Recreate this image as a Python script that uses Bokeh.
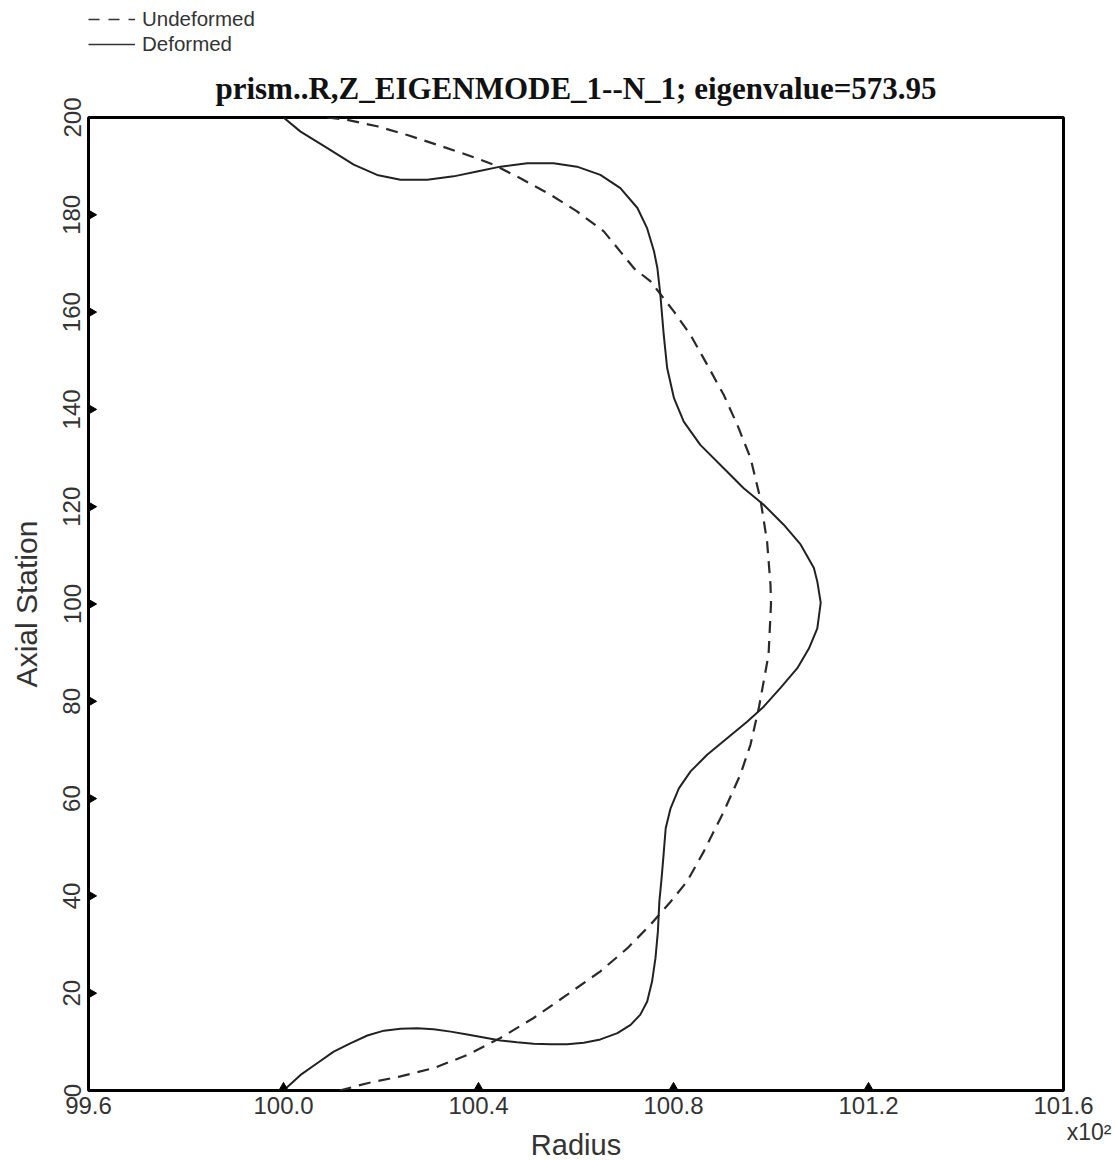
import numpy as np
from bokeh.plotting import figure
from bokeh.layouts import column
from bokeh.models import (Range1d, FixedTicker, PrintfTickFormatter, LinearAxis, Legend, LegendItem)
from bokeh.embed import file_html
from bokeh.resources import INLINE

# ---- data ----
undeformed_r = [100.115, 100.172, 100.240, 100.308, 100.377, 100.445, 100.513, 100.582, 100.650, 100.705,
                100.753, 100.794, 100.828, 100.862, 100.903, 100.937, 100.958, 100.975, 100.985, 100.995,
                101.0, 100.999, 100.992, 100.978, 100.958, 100.931, 100.903, 100.869, 100.835, 100.801,
                100.753, 100.719, 100.657, 100.602, 100.548, 100.486, 100.431, 100.377, 100.315, 100.254,
                100.192, 100.131, 100.090]
undeformed_z = [0, 1.5, 2.9, 4.6, 7.3, 10.8, 14.9, 19.7, 24.5, 29.2,
                34.1, 38.8, 43.0, 49.1, 57.3, 64.9, 71.1, 78.6, 84.1, 89.6,
                100, 103.9, 112.8, 121.7, 130.0, 136.8, 143.0, 149.2, 155.3, 160.1,
                166.3, 169.0, 176.6, 180.7, 184.1, 187.5, 190.3, 192.3, 194.4, 196.4,
                198.2, 199.5, 200]

deformed_r = [100.0, 100.035, 100.069, 100.103, 100.137, 100.172, 100.206, 100.240, 100.274, 100.308,
              100.343, 100.377, 100.411, 100.445, 100.479, 100.513, 100.548, 100.582, 100.616, 100.650,
              100.685, 100.712, 100.732, 100.746, 100.756, 100.763, 100.768, 100.771, 100.775, 100.779,
              100.784, 100.794, 100.811, 100.835, 100.869, 100.910, 100.951, 100.985, 101.019, 101.054,
              101.078, 101.095, 101.102, 101.095, 101.088, 101.061, 101.026, 100.985, 100.944, 100.903,
              100.855, 100.821, 100.801, 100.787, 100.780, 100.773, 100.767, 100.760, 100.746, 100.726,
              100.691, 100.650, 100.602, 100.554, 100.500, 100.445, 100.397, 100.349, 100.295, 100.240,
              100.192, 100.144, 100.090, 100.035, 100.0]
deformed_z = [0, 3.2, 5.6, 8.0, 9.7, 11.3, 12.3, 12.7, 12.8, 12.6,
              12.1, 11.5, 10.9, 10.3, 9.9, 9.6, 9.5, 9.5, 9.8, 10.5,
              11.8, 13.5, 15.6, 18.3, 22.4, 27.2, 32.7, 38.9, 43.0, 47.7,
              53.9, 58.0, 62.1, 65.6, 69.0, 72.4, 75.8, 78.9, 82.7, 86.8,
              90.9, 95.0, 100.3, 104.6, 107.4, 112.2, 116.3, 120.4, 123.8, 127.9,
              132.7, 137.5, 142.3, 148.5, 155.3, 163.6, 169.0, 172.5, 177.2, 181.4,
              185.5, 188.2, 189.9, 190.6, 190.6, 189.9, 188.9, 187.9, 187.2, 187.2,
              188.2, 190.3, 193.7, 197.1, 200]

x_ticks = [99.6, 100.0, 100.4, 100.8, 101.2, 101.6]
y_ticks = [0, 20, 40, 60, 80, 100, 120, 140, 160, 180, 200]

title_text = "prism..R,Z_EIGENMODE_1--N_1; eigenvalue=573.95"
legend_labels = ["Undeformed", "Deformed"]
multiplier_text = "x10\u00b2"

LINE_DARK = "#222222"
TEXT_GRAY = "#333333"
NBSP = "\u00a0"

# ---- legend strip (top-left, above the plot) ----
leg_fig = figure(width=400, height=56, x_range=Range1d(0, 1), y_range=Range1d(0, 1),
                 output_backend="svg", toolbar_location=None, title=None,
                 x_axis_location=None, y_axis_location=None, min_border=0)
leg_fig.outline_line_color = None
leg_fig.grid.visible = False
# sample renderers only feed the legend glyphs (their points lie outside the visible range)
lr_und = leg_fig.line([-2, -1], [-2, -1], line_color=TEXT_GRAY, line_width=1.3, line_dash="11 9")
lr_def = leg_fig.line([-2, -1], [-2, -1], line_color=TEXT_GRAY, line_width=1.3)
legend = Legend(items=[LegendItem(label=legend_labels[0], renderers=[lr_und]),
                       LegendItem(label=legend_labels[1], renderers=[lr_def])],
                location=(0, 0), orientation="vertical",
                glyph_width=47, glyph_height=20, label_height=20, label_standoff=7,
                spacing=1, padding=0, margin=0,
                border_line_color=None, background_fill_alpha=0,
                label_text_font="Liberation Sans", label_text_font_size="20.5px",
                label_text_color=TEXT_GRAY)
leg_fig.add_layout(legend)

# ---- main plot ----
p = figure(frame_width=975, frame_height=973,
           x_range=Range1d(99.6, 101.6), y_range=Range1d(0, 200),
           output_backend="svg", toolbar_location=None,
           min_border_left=88, min_border_top=60, min_border_right=50, min_border_bottom=10,
           title=title_text)
p.background_fill_color = "white"
p.border_fill_color = "white"
p.outline_line_color = "black"
p.outline_line_width = 3
p.xgrid.visible = False
p.ygrid.visible = False

p.title.align = "center"
p.title.text_font = "Liberation Serif"
p.title.text_font_style = "bold"
p.title.text_font_size = "31px"
p.title.text_color = "#111111"
p.title.standoff = 24

def style_axis(ax):
    ax.axis_line_color = None
    ax.major_tick_in = 0
    ax.major_tick_out = 0
    ax.minor_tick_line_color = None
    ax.major_label_text_font = "Liberation Sans"
    ax.major_label_text_font_size = "24px"
    ax.major_label_text_color = TEXT_GRAY
    ax.axis_label_text_font = "Liberation Sans"
    ax.axis_label_text_font_size = "30px"
    ax.axis_label_text_font_style = "normal"
    ax.axis_label_text_color = TEXT_GRAY

style_axis(p.xaxis[0])
style_axis(p.yaxis[0])

p.xaxis[0].ticker = FixedTicker(ticks=x_ticks)
p.xaxis[0].formatter = PrintfTickFormatter(format="%.1f")
p.xaxis[0].major_label_standoff = 6

p.yaxis.ticker = FixedTicker(ticks=y_ticks)
p.yaxis.major_label_orientation = "vertical"
p.yaxis.axis_label = "Axial Station"
p.yaxis.major_label_standoff = 8
p.yaxis.axis_label_standoff = 18

# second bottom axis carrying the x10^2 multiplier and the axis title
mult_axis = LinearAxis(ticker=FixedTicker(ticks=[x_ticks[-1]]),
                       major_label_overrides={x_ticks[-1]: NBSP * 8 + multiplier_text},
                       axis_label="Radius")
style_axis(mult_axis)
mult_axis.major_label_text_font_size = "23px"
mult_axis.axis_label_text_font_size = "29px"
mult_axis.major_label_standoff = 2
mult_axis.axis_label_standoff = -19
p.add_layout(mult_axis, "below")

# curves
p.line(undeformed_r, undeformed_z, line_color="#2a2a2a", line_width=2.2, line_dash="12 8")
p.line(deformed_r, deformed_z, line_color=LINE_DARK, line_width=2)

# inward triangular tick marks
inner_x = x_ticks[1:-1]
inner_y = y_ticks[1:-1]
p.scatter(inner_x, [y_ticks[0]] * len(inner_x), marker="triangle", size=14,
          fill_color="black", line_color="black")
p.scatter([x_ticks[0]] * len(inner_y), inner_y, marker="triangle", size=14, angle=-np.pi / 2,
          fill_color="black", line_color="black")

layout = column(leg_fig, p, spacing=0)
open("out.html", "w").write(file_html(layout, INLINE))
